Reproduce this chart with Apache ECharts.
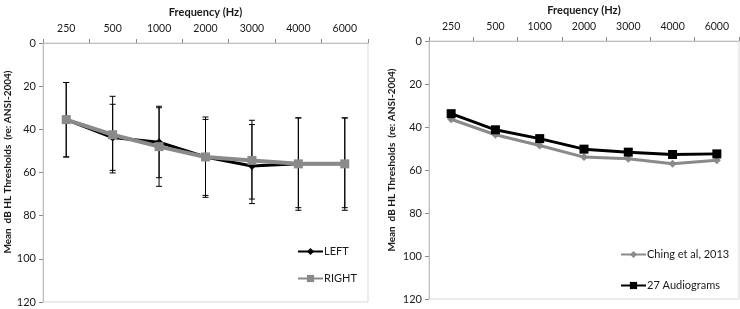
<!DOCTYPE html>
<html>
<head>
<meta charset="utf-8">
<script src="https://cdn.jsdelivr.net/npm/echarts@6/dist/echarts.min.js"></script>
<style>
  html, body { margin: 0; padding: 0; background: #fff; }
  #chart { width: 740px; height: 309px; }
</style>
</head>
<body>
<div id="chart"></div>
<script>
// 频率 (x 轴类别)
const freqs = ['250', '500', '1000', '2000', '3000', '4000', '6000']
const yTicks = [0, 20, 40, 60, 80, 100, 120]

// 左图: 左耳 / 右耳 平均阈值
const leftEar = [35.5, 43.8, 46, 52.8, 57, 56, 56]
const rightEar = [35.5, 42.5, 48, 52.8, 54.4, 56, 56]
// 误差线 (下端 / 上端)
const leftLow = [18.3, 28.4, 29.3, 35.4, 37.8, 34.7, 34.7]
const leftHigh = [52.8, 59, 62.4, 70.6, 74.4, 77.5, 77.5]
const rightLow = [18.3, 24.7, 30, 34.3, 35.8, 34.7, 34.7]
const rightHigh = [52.8, 60.2, 66.4, 71.5, 72.3, 76.3, 76.3]

// 右图: 对比数据
const ching = [36.4, 43.6, 48.6, 54, 54.8, 57.1, 55.5]
const audiograms = [33.8, 41.3, 45.4, 50.3, 51.7, 52.8, 52.5]

const FONT = 'Lato'
const GRAY = '#8a8a8a'
const yName = 'Mean  dB HL Thresholds  (re: ANSI-2004)'

const myChart = echarts.init(document.querySelector('#chart'))

// 误差线绘制
const errorItem = (params, api) => {
  const x = api.value(0)
  const top = api.coord([x, api.value(1)])
  const bottom = api.coord([x, api.value(2)])
  const w = 3
  const style = { stroke: '#000', lineWidth: 1 }
  return {
    type: 'group',
    children: [
      { type: 'line', shape: { x1: top[0], y1: top[1], x2: bottom[0], y2: bottom[1] }, style },
      { type: 'line', shape: { x1: top[0] - w, y1: top[1], x2: top[0] + w, y2: top[1] }, style },
      { type: 'line', shape: { x1: bottom[0] - w, y1: bottom[1], x2: bottom[0] + w, y2: bottom[1] }, style }
    ]
  }
}

const makeX = (gridIndex) => ({
  type: 'category',
  gridIndex,
  position: 'top',
  data: freqs,
  name: 'Frequency (Hz)',
  nameLocation: 'middle',
  nameGap: 25,
  nameTextStyle: { fontFamily: FONT, fontWeight: 'bold', fontSize: 11, color: '#1a1a1a' },
  axisLine: { lineStyle: { color: '#bfbfbf' } },
  axisTick: { show: true, length: 4, lineStyle: { color: '#8c8c8c' } },
  axisLabel: { fontFamily: FONT, fontSize: 10.5, color: '#1a1a1a', margin: 9 },
  splitLine: { show: false }
})

const makeY = (gridIndex) => ({
  type: 'value',
  gridIndex,
  inverse: true,
  min: 0,
  max: 120,
  interval: 20,
  axisLine: { show: true, lineStyle: { color: '#bfbfbf' } },
  axisTick: { show: true, length: 4, lineStyle: { color: '#8c8c8c' } },
  axisLabel: { fontFamily: FONT, fontSize: 11, color: '#1a1a1a', margin: 7,
    customValues: yTicks },
  splitLine: { show: false }
})

const legendText = { fontFamily: FONT, fontSize: 11, color: '#1a1a1a', padding: [0, 0, 0, -4] }

const option = {
  animation: false,
  grid: [
    { left: 43, top: 43, width: 325, height: 259, show: true, borderColor: '#d9d9d9', borderWidth: 1 },
    { left: 429, top: 37, width: 310, height: 262, show: true, borderColor: '#d9d9d9', borderWidth: 1 }
  ],
  xAxis: [makeX(0), makeX(1)],
  yAxis: [makeY(0), makeY(1)],
  legend: [
    {
      left: 292, top: 241, orient: 'vertical', itemGap: 16, itemWidth: 25, itemHeight: 9,
      textStyle: legendText,
      data: ['LEFT', 'RIGHT']
    },
    {
      left: 615, top: 244, orient: 'vertical', itemGap: 20, itemWidth: 25, itemHeight: 9,
      textStyle: legendText,
      data: ['Ching et al, 2013', '27 Audiograms']
    }
  ],
  graphic: [
    { type: 'text', x: 8, y: 162, rotation: Math.PI / 2,
      style: { text: yName, fontFamily: FONT, fontWeight: 'bold', fontSize: 10, fill: '#1a1a1a', align: 'center', verticalAlign: 'middle' } },
    { type: 'text', x: 392, y: 160, rotation: Math.PI / 2,
      style: { text: yName, fontFamily: FONT, fontWeight: 'bold', fontSize: 10, fill: '#1a1a1a', align: 'center', verticalAlign: 'middle' } }
  ],
  series: [
    {
      type: 'custom', xAxisIndex: 0, yAxisIndex: 0, z: 1, silent: true,
      renderItem: errorItem, encode: { x: 0, y: [1, 2] },
      data: freqs.map((f, i) => [i, leftLow[i], leftHigh[i]])
    },
    {
      type: 'custom', xAxisIndex: 0, yAxisIndex: 0, z: 1, silent: true,
      renderItem: errorItem, encode: { x: 0, y: [1, 2] },
      data: freqs.map((f, i) => [i, rightLow[i], rightHigh[i]])
    },
    {
      name: 'LEFT', type: 'line', xAxisIndex: 0, yAxisIndex: 0, z: 2,
      data: leftEar, symbol: 'diamond', symbolSize: 8,
      lineStyle: { color: '#000', width: 3 }, itemStyle: { color: '#000' }
    },
    {
      name: 'RIGHT', type: 'line', xAxisIndex: 0, yAxisIndex: 0, z: 3,
      data: rightEar, symbol: 'rect', symbolSize: 9,
      lineStyle: { color: GRAY, width: 4 }, itemStyle: { color: GRAY }
    },
    {
      name: 'Ching et al, 2013', type: 'line', xAxisIndex: 1, yAxisIndex: 1, z: 2,
      data: ching, symbol: 'diamond', symbolSize: 8,
      lineStyle: { color: GRAY, width: 3 }, itemStyle: { color: GRAY }
    },
    {
      name: '27 Audiograms', type: 'line', xAxisIndex: 1, yAxisIndex: 1, z: 3,
      data: audiograms, symbol: 'rect', symbolSize: 9,
      lineStyle: { color: '#000', width: 3 }, itemStyle: { color: '#000' }
    }
  ]
}
myChart.setOption(option)
</script>
</body>
</html>
